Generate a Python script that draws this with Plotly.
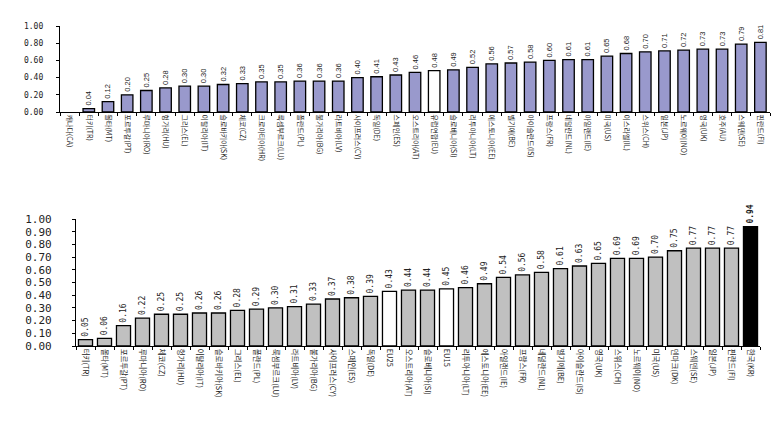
import plotly.graph_objects as go

# ---- top chart data ----
top_categories = ["캐나다(CA)", "터키(TR)", "몰타(MT)", "포르투갈(PT)", "루마니아(RO)", "헝가리(HU)",
                  "그리스(EL)", "이탈리아(IT)", "슬로바키아(SK)", "체코(CZ)", "크로아티아(HR)",
                  "룩셈부르크(LU)", "폴란드(PL)", "불가리아(BG)", "라트비아(LV)", "사이프러스(CY)",
                  "독일(DE)", "스페인(ES)", "오스트리아(AT)", "유럽연합(EU)", "슬로베니아(SI)",
                  "리투아니아(LT)", "에스토니아(EE)", "벨기에(BE)", "아이슬란드(IS)", "프랑스(FR)",
                  "네덜란드(NL)", "아일랜드(IE)", "미국(US)", "이스라엘(IL)", "스위스(CH)",
                  "일본(JP)", "노르웨이(NO)", "영국(UK)", "호주(AU)", "스웨덴(SE)", "핀란드(FI)"]
top_values = [None, 0.04, 0.12, 0.20, 0.25, 0.28, 0.30, 0.30, 0.32, 0.33, 0.35, 0.35, 0.36, 0.36,
              0.36, 0.40, 0.41, 0.43, 0.46, 0.48, 0.49, 0.52, 0.56, 0.57, 0.58, 0.60, 0.61, 0.61,
              0.65, 0.68, 0.70, 0.71, 0.72, 0.73, 0.73, 0.79, 0.81]
top_highlight = ["유럽연합(EU)"]

# ---- bottom chart data ----
bottom_categories = ["터키(TR)", "몰타(MT)", "포르투갈(PT)", "루마니아(RO)", "체코(CZ)", "헝가리(HU)",
                     "이탈리아(IT)", "슬로바키아(SK)", "그리스(EL)", "폴란드(PL)", "룩셈부르크(LU)",
                     "라트비아(LV)", "불가리아(BG)", "사이프러스(CY)", "스페인(ES)", "독일(DE)", "EU25",
                     "오스트리아(AT)", "슬로베니아(SI)", "EU15", "리투아니아(LT)", "에스토니아(EE)",
                     "아일랜드(IE)", "프랑스(FR)", "네덜란드(NL)", "벨기에(BE)", "아이슬란드(IS)",
                     "영국(UK)", "스위스(CH)", "노르웨이(NO)", "미국(US)", "덴마크(DK)", "스웨덴(SE)",
                     "일본(JP)", "핀란드(FI)", "한국(KR)"]
bottom_values = [0.05, 0.06, 0.16, 0.22, 0.25, 0.25, 0.26, 0.26, 0.28, 0.29, 0.30, 0.31, 0.33,
                 0.37, 0.38, 0.39, 0.43, 0.44, 0.44, 0.45, 0.46, 0.49, 0.54, 0.56, 0.58, 0.61,
                 0.63, 0.65, 0.69, 0.69, 0.70, 0.75, 0.77, 0.77, 0.77, 0.94]
bottom_white = ["EU25", "EU15"]
bottom_black = ["한국(KR)"]

OFF = 8  # page body margin
W, H = 781 - 2 * OFF, 428 - 2 * OFF
PURPLE = "#9999CC"
GRAY = "#C0C0C0"
TXT = "#222222"
KFONT = "Noto Sans CJK KR"

top_colors = ["white" if c in top_highlight else PURPLE for c in top_categories]
top_text = ["" if v is None else f"{v:.2f}" for v in top_values]

bot_colors = []
for c in bottom_categories:
    if c in bottom_white:
        bot_colors.append("white")
    elif c in bottom_black:
        bot_colors.append("black")
    else:
        bot_colors.append(GRAY)
bot_text = [f"<b>{v:.2f}</b>" if c in bottom_black else f"{v:.2f}"
            for c, v in zip(bottom_categories, bottom_values)]

fig = go.Figure()
fig.add_trace(go.Bar(
    x=top_categories, y=top_values, xaxis="x", yaxis="y",
    marker=dict(color=top_colors, line=dict(color="black", width=1.3)),
    text=top_text, textposition="outside", textangle=-90, constraintext="none",
    cliponaxis=False, textfont=dict(family="Liberation Sans", size=7.5, color=TXT),
    width=0.6, showlegend=False, hoverinfo="x+y",
))
fig.add_trace(go.Bar(
    x=bottom_categories, y=bottom_values, xaxis="x2", yaxis="y2",
    marker=dict(color=bot_colors, line=dict(color="black", width=1.3)),
    text=bot_text, textposition="outside", textangle=-90, constraintext="none",
    cliponaxis=False, textfont=dict(family="DejaVu Sans Mono", size=8, color=TXT),
    width=0.74, showlegend=False, hoverinfo="x+y",
))

def px_x(a, b):
    return [(a - OFF) / W, (b - OFF) / W]

def px_y(top, bottom):
    return [(H - (bottom - OFF)) / H, (H - (top - OFF)) / H]

def xaxis_style(size):
    return dict(type="category", showline=True, linecolor="black", linewidth=1.3,
                ticks="outside", ticklen=3, tickcolor="black", tickson="boundaries",
                tickangle=90, showgrid=False, zeroline=False, automargin=False,
                tickfont=dict(family=KFONT, size=size, color=TXT))

fig.update_layout(
    width=W, height=H,
    margin=dict(l=0, r=0, t=0, b=0, autoexpand=False),
    paper_bgcolor="white", plot_bgcolor="white",
    bargap=0.3,
    xaxis=dict(domain=px_x(60, 770), anchor="y", **xaxis_style(7)),
    yaxis=dict(domain=px_y(26, 112), anchor="x", range=[0, 1.0], dtick=0.2,
               tickformat=".2f", showline=True, linecolor="black", linewidth=1.3,
               ticks="outside", ticklen=3, tickcolor="black", showgrid=False,
               zeroline=False, ticklabelstandoff=11, automargin=False,
               tickfont=dict(family="DejaVu Sans Mono", size=8, color=TXT)),
    xaxis2=dict(domain=px_x(76, 760), anchor="y2", **xaxis_style(7.5)),
    yaxis2=dict(domain=px_y(219, 346), anchor="x2", range=[0, 1.0], dtick=0.1,
                tickformat=".2f", showline=True, linecolor="black", linewidth=1.3,
                ticks="outside", ticklen=3, tickcolor="black", showgrid=False,
                zeroline=False, ticklabelstandoff=18, automargin=False,
                tickfont=dict(family="DejaVu Sans Mono", size=11, color=TXT)),
)

fig.write_html("out.html")
